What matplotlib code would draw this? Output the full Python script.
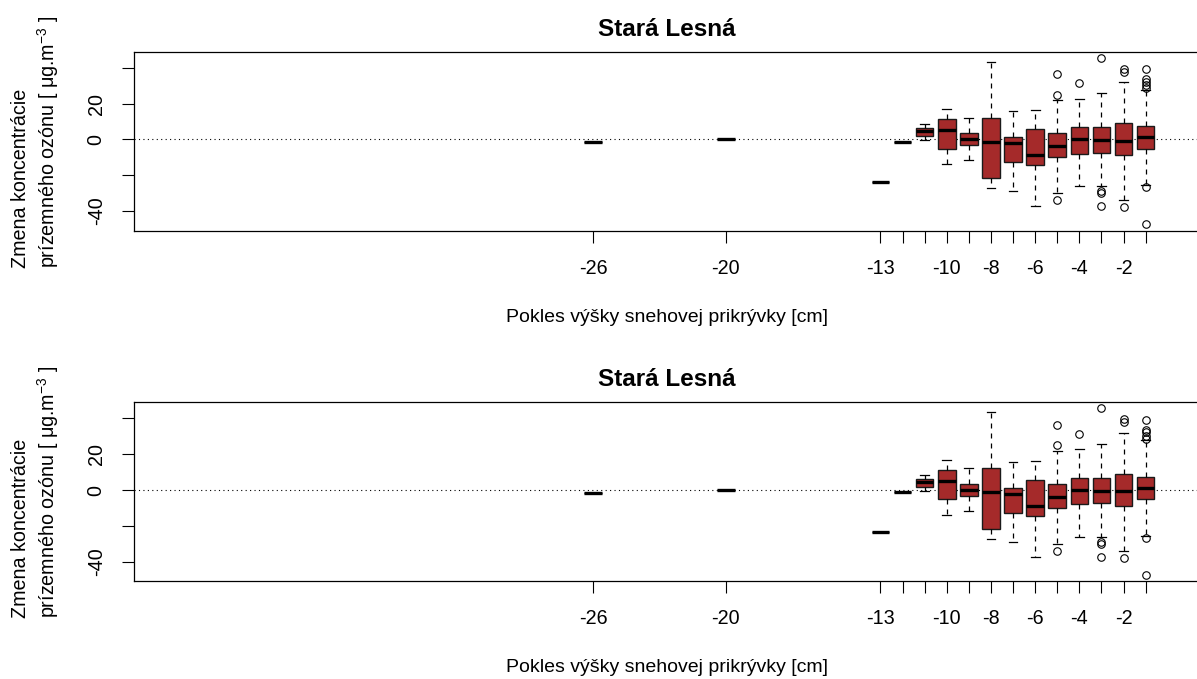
import matplotlib.pyplot as plt

plt.rcParams['font.family'] = ['Liberation Sans', 'DejaVu Sans']
plt.rcParams['mathtext.fontset'] = 'custom'
plt.rcParams['mathtext.rm'] = 'Liberation Sans'
plt.rcParams['mathtext.it'] = 'Liberation Sans:italic'

# drop of snow depth [cm] -> ozone concentration change, box statistics per group
positions = [-26, -20, -13, -12, -11, -10, -9, -8, -7, -6, -5, -4, -3, -2, -1]
whislo = [-1.5, 0.0, -23.6, -1.3, -0.4, -13.6, -11.5, -27.0, -28.7, -37.1, -30.2, -26.3, -26.1, -33.9, -25.6]
q1 = [-1.5, 0.0, -23.6, -1.3, 1.9, -5.2, -3.2, -21.6, -12.5, -14.5, -10.1, -8.0, -7.4, -8.9, -5.2]
med = [-1.5, 0.0, -23.6, -1.3, 4.8, 5.0, 0.2, -1.3, -2.2, -8.8, -3.7, 0.0, -0.2, -0.7, 1.1]
q3 = [-1.5, 0.0, -23.6, -1.3, 6.1, 11.4, 3.4, 12.1, 1.3, 5.6, 3.4, 6.9, 6.9, 9.1, 7.6]
whishi = [-1.5, 0.0, -23.6, -1.3, 8.4, 16.9, 12.1, 43.4, 15.6, 16.2, 22.0, 22.7, 25.7, 32.1, 27.8]
fliers = [
    [], [], [], [], [], [], [], [], [], [],
    [36.3, 25.0, -33.7],
    [31.3],
    [45.6, -28.8, -30.2, -37.4],
    [39.5, 37.8, -37.8],
    [39.1, 33.5, 32.2, 30.3, 28.5, -26.8, -47.3],
]

x_labels = ['-26', '-20', '-13', '', '', '-10', '', '-8', '', '-6', '', '-4', '', '-2', '']
y_ticks = [-40, -20, 0, 20, 40]
y_labels = ['-40', '', '0', '20', '']

title = 'Stará Lesná'
xlab = 'Pokles výšky snehovej prikrývky [cm]'
ylab = 'Zmena koncentrácie\nprízemného ozónu [ μg.m$^{-3}$ ]'

W, H = 1197, 679
fig = plt.figure(figsize=(W / 100, H / 100), dpi=100)

# two identical panels, pixel boxes (left, top, right, bottom)
panels = [(134, 52, 1200, 231), (134, 402, 1200, 581)]
ylims = [(-51.2, 48.8), (-50.7, 49.2)]

stats = []
for i in range(len(positions)):
    stats.append(dict(whislo=whislo[i], q1=q1[i], med=med[i], q3=q3[i],
                      whishi=whishi[i], fliers=fliers[i]))

for (l, t, r, b), ylim in zip(panels, ylims):
    ax = fig.add_axes([l / W, 1 - b / H, (r - l) / W, (b - t) / H])
    ax.axhline(0, color='black', lw=0.8, linestyle=(0, (1, 3)), zorder=1)
    ax.bxp(stats, positions=positions, widths=0.8, capwidths=0.4,
           patch_artist=True, manage_ticks=False,
           boxprops=dict(facecolor='#A52A2A', edgecolor='#1a1a1a', linewidth=1.0),
           medianprops=dict(color='black', linewidth=2.4, solid_capstyle='butt'),
           whiskerprops=dict(color='black', linewidth=0.9, linestyle=(0, (4, 4))),
           capprops=dict(color='black', linewidth=0.9),
           flierprops=dict(marker='o', markerfacecolor='none', markeredgecolor='black',
                           markersize=5.4, markeredgewidth=0.8))
    ax.set_xlim(-46.78, 1.46)
    ax.set_ylim(*ylim)

    ax.set_xticks(positions)
    ax.set_xticklabels(x_labels)
    ax.set_yticks(y_ticks)
    ax.set_yticklabels(y_labels, rotation=90, va='center')
    ax.tick_params(length=8.4, width=0.8, pad=12, labelsize=14.2)
    for s in ax.spines.values():
        s.set_linewidth(0.9)

    ax.set_title(title, fontsize=17.5, fontweight='bold', pad=11.2)
    ax.set_xlabel(xlab, fontsize=14.0, labelpad=22)

    fig.text(36 / W, 1 - ((t + b) / 2) / H, ylab, rotation=90, ha='center', va='center',
             multialignment='left', fontsize=14.2, linespacing=1.3)

fig.savefig('out.png', dpi=100)
